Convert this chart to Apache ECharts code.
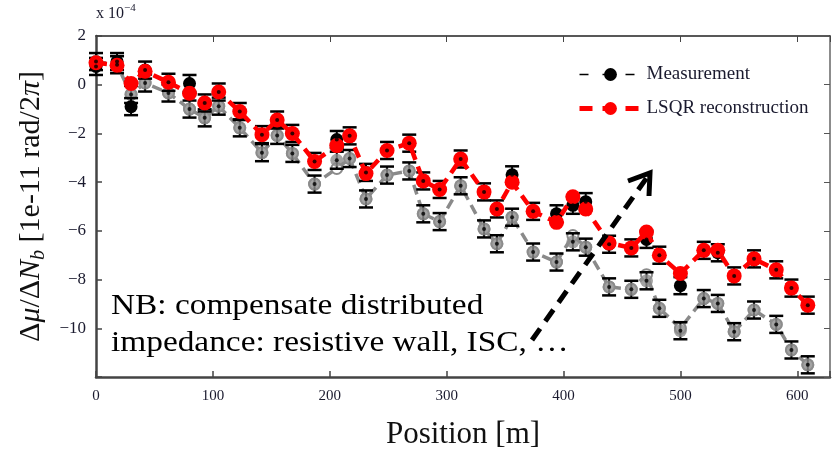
<!DOCTYPE html>
<html>
<head>
<meta charset="utf-8">
<script src="https://cdn.jsdelivr.net/npm/echarts@6/dist/echarts.min.js"></script>
<style>
  html, body { margin: 0; padding: 0; background: #fff; }
  #chart { width: 835px; height: 452px; }
</style>
</head>
<body>
<div id="chart"></div>
<script>
// BPM positions [m]
const positions = [0, 18, 30, 42, 62, 80, 93, 105, 123, 142, 155, 168, 187, 206, 217, 231, 249, 268, 280, 294,
  312, 332, 343, 356, 374, 394, 408, 419, 439, 458, 471, 482, 500, 520, 532, 546, 563, 582, 595, 609];

// upper set (x 1e-4)
const measured = [0.75, 0.95, -0.9, 0.6, 0.1, 0.05, -0.75, -0.3, -1.1, -2.05, -1.45, -2.0, -3.15, -2.25, -2.1, -3.6, -2.7, -2.4, -3.95, -4.3,
  -3.05, -4.4, -5.1, -3.7, -5.2, -5.3, -4.95, -4.8, -6.55, -6.7, -6.35, -7.0, -8.25, -6.8, -6.9, -7.85, -7.15, -7.6, -8.35, -9.05];
const lsqr = [0.9, 0.8, 0.05, 0.55, 0.1, -0.35, -0.75, -0.3, -1.1, -2.05, -1.45, -2.0, -3.15, -2.5, -2.1, -3.65, -2.7, -2.4, -3.95, -4.3,
  -3.05, -4.4, -5.1, -4.0, -5.2, -5.65, -4.6, -5.1, -6.5, -6.7, -6.05, -7.0, -7.75, -6.8, -6.8, -7.85, -7.15, -7.6, -8.35, -9.05];

// lower (grey) set, before compensation
const greyMeasured = [0.95, 0.82, -0.4, 0.07, -0.34, -1.0, -1.36, -0.88, -1.77, -2.79, -2.08, -2.82, -4.08, -3.1, -3.03, -4.69, -3.71, -3.54, -5.3, -5.62,
  -4.15, -5.92, -6.53, -5.44, -6.87, -7.28, -6.45, -6.67, -8.3, -8.4, -8.05, -9.18, -10.1, -8.78, -8.98, -10.14, -9.25, -9.84, -10.89, -11.5];
const greyLsqr = [0.95, 0.82, -0.4, 0.07, -0.34, -1.0, -1.36, -0.88, -1.77, -2.79, -2.08, -2.82, -4.08, -3.44, -3.03, -4.69, -3.71, -3.54, -5.3, -5.62,
  -4.15, -5.92, -6.53, -5.44, -6.87, -7.28, -6.19, -6.67, -8.3, -8.4, -7.8, -9.18, -10.0, -8.78, -8.98, -10.14, -9.25, -9.84, -10.89, -11.5];

const errHalf = 0.35;
const xTicks = [0, 100, 200, 300, 400, 500, 600];

const pairs = (ys) => positions.map((p, i) => [p, ys[i]]);
const serif = 'Liberation Serif';

function errorBar(params, api) {
  const x = api.value(0), y = api.value(1);
  const top = api.coord([x, y + errHalf]);
  const bot = api.coord([x, y - errHalf]);
  const hw = 7;
  const st = { stroke: '#000', lineWidth: 2.5 };
  return {
    type: 'group',
    children: [
      { type: 'line', shape: { x1: top[0], y1: top[1], x2: bot[0], y2: bot[1] }, style: { stroke: '#000', lineWidth: 2 } },
      { type: 'line', shape: { x1: top[0] - hw, y1: top[1], x2: top[0] + hw, y2: top[1] }, style: st },
      { type: 'line', shape: { x1: bot[0] - hw, y1: bot[1], x2: bot[0] + hw, y2: bot[1] }, style: st }
    ]
  };
}

let chart = echarts.init(document.getElementById('chart'));

let option = {
  animation: false,
  backgroundColor: '#fff',
  grid: { left: 96, right: 5, top: 36, bottom: 75, outerBoundsMode: 'none' },
  legend: {
    orient: 'vertical',
    left: 572,
    top: 60,
    itemWidth: 62,
    itemHeight: 16,
    itemGap: 15,
    textStyle: { fontFamily: serif, fontSize: 19, color: '#1a1a2e' },
    data: [
      { name: 'Measurement', lineStyle: { color: '#000', width: 1.5, type: [9, 14], opacity: 1 } },
      { name: 'LSQR reconstruction', lineStyle: { color: '#ff0000', width: 5, type: [13, 10], opacity: 1 } }
    ]
  },
  xAxis: [{
    type: 'value', min: 0, max: 628, interval: 100,
    axisLine: { onZero: false, lineStyle: { color: '#444', width: 2.5 } },
    axisTick: { inside: true, length: 6, lineStyle: { color: '#444', width: 1.5 } },
    axisLabel: {
      fontFamily: serif, fontSize: 15, color: '#1a1a2e', margin: 12,
      formatter: (v) => xTicks.includes(v) ? String(v) : ''
    },
    splitLine: { show: false },
    name: 'Position [m]', nameLocation: 'middle', nameGap: 42,
    nameTextStyle: { fontFamily: serif, fontSize: 31, color: '#111' }
  }, {
    type: 'value', min: 0, max: 628, interval: 100, position: 'top',
    axisLine: { onZero: false, lineStyle: { color: '#222', width: 1.5 } },
    axisTick: { inside: true, length: 6, lineStyle: { color: '#444' } },
    axisLabel: { show: false }, splitLine: { show: false }
  }],
  yAxis: [{
    type: 'value', min: -12, max: 2, interval: 2,
    axisLine: { show: true, onZero: false, lineStyle: { color: '#444', width: 2.5 } },
    axisTick: { show: true, inside: true, length: 6, lineStyle: { color: '#444', width: 1.5 } },
    axisLabel: {
      fontFamily: serif, fontSize: 17, color: '#1a1a2e', margin: 10,
      formatter: (v) => v === -12 ? '' : String(v).replace('-', '\u2212')
    },
    splitLine: { show: false },
    name: '{a|\u0394}{i|\u03bc}{a|/\u0394}{i|N}{s|b}{a| [1e-11 rad/2}{i|\u03c0}{a|]}',
    nameLocation: 'middle', nameGap: 47, nameRotate: 90,
    nameTextStyle: {
      color: '#111',
      rich: {
        a: { fontFamily: serif, fontSize: 30, color: '#111' },
        i: { fontFamily: serif, fontSize: 30, fontStyle: 'italic', color: '#111' },
        s: { fontFamily: serif, fontSize: 20, fontStyle: 'italic', color: '#111', padding: [14, 0, 0, 0] }
      }
    }
  }, {
    type: 'value', min: -12, max: 2, interval: 2, position: 'right',
    axisLine: { show: true, onZero: false, lineStyle: { color: '#666', width: 1.5 } },
    axisTick: { show: true, inside: true, length: 6, lineStyle: { color: '#555' } },
    axisLabel: { show: false }, splitLine: { show: false }
  }],
  series: [
    {
      name: 'greyLsqr', type: 'line', data: pairs(greyLsqr),
      symbol: 'emptyCircle', symbolSize: 11,
      itemStyle: { color: '#8a8a8a', borderWidth: 3 },
      lineStyle: { color: '#8a8a8a', width: 3.5, type: [10, 6] },
      z: 2
    },
    { name: 'greyErr', type: 'custom', renderItem: errorBar, data: pairs(greyMeasured), z: 3 },
    {
      name: 'greyMeasured', type: 'scatter', data: pairs(greyMeasured),
      symbolSize: 13, itemStyle: { color: '#8c8c8c' }, z: 4
    },
    { name: 'measErr', type: 'custom', renderItem: errorBar, data: pairs(measured), z: 5 },
    {
      name: 'Measurement', type: 'line', data: pairs(measured),
      symbol: 'circle', symbolSize: 13, itemStyle: { color: '#000' },
      lineStyle: { opacity: 0, width: 0 }, z: 6
    },
    {
      name: 'LSQR reconstruction', type: 'line', data: pairs(lsqr),
      symbol: 'circle', symbolSize: 15,
      itemStyle: { color: '#ff0000' },
      lineStyle: { color: '#ff0000', width: 4.5, type: [11, 7] },
      z: 7
    },
    {
      name: 'dots', type: 'scatter', data: pairs(measured).concat(pairs(greyMeasured)),
      symbolSize: 4, itemStyle: { color: '#000' }, z: 8, silent: true
    }
  ],
  graphic: [
    {
      type: 'text', left: 96, top: 3,
      style: {
        text: '{a|x 10}{s|\u22124}',
        rich: {
          a: { fontFamily: serif, fontSize: 16, fill: '#1a1a2e' },
          s: { fontFamily: serif, fontSize: 11, fill: '#1a1a2e', padding: [0, 0, 10, 0] }
        }
      }
    },
    {
      type: 'text', x: 111, y: 288, scaleX: 1.15, z: 20,
      style: {
        text: 'NB: compensate distributed\nimpedance: resistive wall, ISC, \u2026',
        font: '29px "Liberation Serif"', fill: '#000', lineHeight: 37
      }
    },
    {
      type: 'line', z: 20,
      shape: { x1: 532, y1: 340, x2: 648, y2: 176 },
      style: { stroke: '#000', lineWidth: 5, lineDash: [14, 9] }
    },
    {
      type: 'polyline', z: 20,
      shape: { points: [[628, 181], [650, 173], [649, 196]] },
      style: { stroke: '#000', lineWidth: 5, fill: null }
    }
  ]
};

chart.setOption(option);
</script>
</body>
</html>
